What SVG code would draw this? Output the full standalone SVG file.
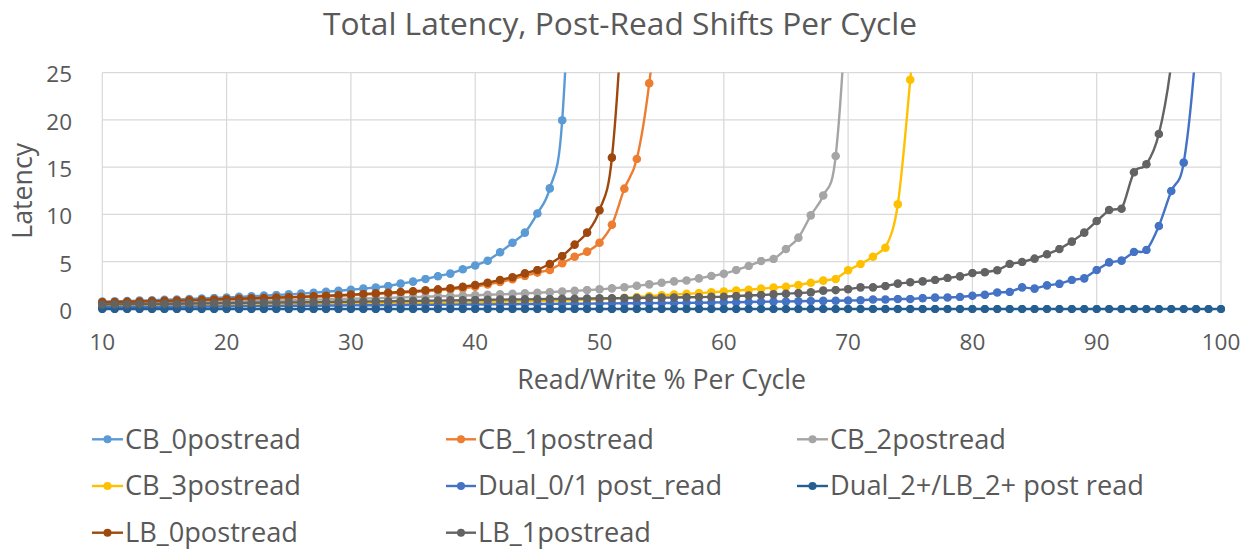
<svg xmlns="http://www.w3.org/2000/svg" width="1250" height="550" viewBox="0 0 1250 550">
<style>
  text{font-family:"Open Sans","Noto Sans","DejaVu Sans",sans-serif;fill:#595959}
  .title{font-size:31.7px}
  .tick{font-size:22.5px}
  .axt{font-size:26.7px}
  .leg{font-size:27.2px}
  .grid line{stroke:#D9D9D9;stroke-width:1.25}
  .s{fill:none;stroke-width:2.4;stroke-linejoin:round;vector-effect:non-scaling-stroke}
  .key line{stroke-width:2.4}
  .cb0{stroke:#5B9BD5;marker:url(#m-cb0)}
  .cb1{stroke:#ED7D31;marker:url(#m-cb1)}
  .cb2{stroke:#A5A5A5;marker:url(#m-cb2)}
  .cb3{stroke:#FFC000;marker:url(#m-cb3)}
  .d01{stroke:#4472C4;marker:url(#m-d01)}
  .d2{stroke:#255E91;marker:url(#m-d2)}
  .lb0{stroke:#9E480E;marker:url(#m-lb0)}
  .lb1{stroke:#636363;marker:url(#m-lb1)}
</style>
<defs>
  <!-- round data markers, 9px on screen inside the data-space transform -->
  <marker id="m-cb0" viewBox="0 0 9 9" refX="4.5" refY="4.5" markerUnits="userSpaceOnUse" markerWidth="0.724" markerHeight="0.951" preserveAspectRatio="none"><circle cx="4.5" cy="4.5" r="4.3" fill="#5B9BD5"/></marker>
  <marker id="m-cb1" viewBox="0 0 9 9" refX="4.5" refY="4.5" markerUnits="userSpaceOnUse" markerWidth="0.724" markerHeight="0.951" preserveAspectRatio="none"><circle cx="4.5" cy="4.5" r="4.3" fill="#ED7D31"/></marker>
  <marker id="m-cb2" viewBox="0 0 9 9" refX="4.5" refY="4.5" markerUnits="userSpaceOnUse" markerWidth="0.724" markerHeight="0.951" preserveAspectRatio="none"><circle cx="4.5" cy="4.5" r="4.3" fill="#A5A5A5"/></marker>
  <marker id="m-cb3" viewBox="0 0 9 9" refX="4.5" refY="4.5" markerUnits="userSpaceOnUse" markerWidth="0.724" markerHeight="0.951" preserveAspectRatio="none"><circle cx="4.5" cy="4.5" r="4.3" fill="#FFC000"/></marker>
  <marker id="m-d01" viewBox="0 0 9 9" refX="4.5" refY="4.5" markerUnits="userSpaceOnUse" markerWidth="0.724" markerHeight="0.951" preserveAspectRatio="none"><circle cx="4.5" cy="4.5" r="4.3" fill="#4472C4"/></marker>
  <marker id="m-d2" viewBox="0 0 9 9" refX="4.5" refY="4.5" markerUnits="userSpaceOnUse" markerWidth="0.724" markerHeight="0.951" preserveAspectRatio="none"><circle cx="4.5" cy="4.5" r="4.3" fill="#255E91"/></marker>
  <marker id="m-lb0" viewBox="0 0 9 9" refX="4.5" refY="4.5" markerUnits="userSpaceOnUse" markerWidth="0.724" markerHeight="0.951" preserveAspectRatio="none"><circle cx="4.5" cy="4.5" r="4.3" fill="#9E480E"/></marker>
  <marker id="m-lb1" viewBox="0 0 9 9" refX="4.5" refY="4.5" markerUnits="userSpaceOnUse" markerWidth="0.724" markerHeight="0.951" preserveAspectRatio="none"><circle cx="4.5" cy="4.5" r="4.3" fill="#636363"/></marker>
  <clipPath id="plot-clip"><rect x="85" y="72.5" width="1160" height="260"/></clipPath>
</defs>

<rect width="1250" height="550" fill="#ffffff"/>

<g id="title"><text class="title" x="620" y="34.5" text-anchor="middle">Total Latency, Post-Read Shifts Per Cycle</text></g>

<g id="gridlines" class="grid">
  <line x1="102.3" y1="309" x2="1221" y2="309"/>
  <line x1="102.3" y1="261.7" x2="1221" y2="261.7"/>
  <line x1="102.3" y1="214.4" x2="1221" y2="214.4"/>
  <line x1="102.3" y1="167.1" x2="1221" y2="167.1"/>
  <line x1="102.3" y1="119.8" x2="1221" y2="119.8"/>
  <line x1="102.3" y1="72.5" x2="1221" y2="72.5"/>
  <line x1="102.3" y1="72.5" x2="102.3" y2="309"/>
  <line x1="226.6" y1="72.5" x2="226.6" y2="309"/>
  <line x1="350.9" y1="72.5" x2="350.9" y2="309"/>
  <line x1="475.2" y1="72.5" x2="475.2" y2="309"/>
  <line x1="599.5" y1="72.5" x2="599.5" y2="309"/>
  <line x1="723.8" y1="72.5" x2="723.8" y2="309"/>
  <line x1="848.1" y1="72.5" x2="848.1" y2="309"/>
  <line x1="972.4" y1="72.5" x2="972.4" y2="309"/>
  <line x1="1096.7" y1="72.5" x2="1096.7" y2="309"/>
  <line x1="1221" y1="72.5" x2="1221" y2="309"/>
</g>

<g id="y-axis" class="tick" text-anchor="end">
  <text x="72" y="318.9">0</text>
  <text x="72" y="271.6">5</text>
  <text x="72" y="224.3">10</text>
  <text x="72" y="177">15</text>
  <text x="72" y="129.7">20</text>
  <text x="72" y="82.4">25</text>
</g>
<g id="x-axis" class="tick" text-anchor="middle">
  <text x="102.3" y="349.5">10</text>
  <text x="226.6" y="349.5">20</text>
  <text x="350.9" y="349.5">30</text>
  <text x="475.2" y="349.5">40</text>
  <text x="599.5" y="349.5">50</text>
  <text x="723.8" y="349.5">60</text>
  <text x="848.1" y="349.5">70</text>
  <text x="972.4" y="349.5">80</text>
  <text x="1096.7" y="349.5">90</text>
  <text x="1221" y="349.5">100</text>
</g>
<g id="axis-titles" class="axt">
  <text x="661.7" y="389" text-anchor="middle">Read/Write % Per Cycle</text>
  <text transform="translate(31.5 190.8) rotate(-90)" text-anchor="middle">Latency</text>
</g>

<!-- series: paths are in data units (x = read/write %, y = latency) -->
<g id="series" clip-path="url(#plot-clip)">
  <g transform="matrix(12.43 0 0 -9.46 -22 309)">
    <path id="cb-0postread" class="s cb0" d="M10 .78 11 .81 12 .85 13 .89 14 .93 15 .97 16 1.01 17 1.06 18 1.11 19 1.16 20 1.22 21 1.28 22 1.34 23 1.41 24 1.48 25 1.55 26 1.63 27 1.72 28 1.83 29 1.93 30 2.03 31 2.15 32 2.28 33 2.43 34 2.68 35 2.89 36 3.17 37 3.47 38 3.74 39 4.2 40 4.6 41 5.1 42 6 C42.333 6.317 42.667 6.655 43 7 C43.333 7.345 43.667 7.553 44 8.07 C44.333 8.587 44.667 9.32 45 10.1 C45.333 10.88 45.667 11.108 46 12.75 C46.333 14.392 46.667 13.742 47 19.95 C47.333 26.16 47.667 36.66 48 50"/>
    <path id="cb-1postread" class="s cb1" d="M10 .7 11 .72 12 .74 13 .77 14 .8 15 .83 16 .86 17 .89 18 .93 19 .97 20 1.02 21 1.06 22 1.1 23 1.14 24 1.18 25 1.22 26 1.26 27 1.3 28 1.35 29 1.4 30 1.46 31 1.52 32 1.58 33 1.65 34 1.72 35 1.8 36 1.88 37 1.97 38 2.07 39 2.18 40 2.35 41 2.6 42 2.85 43 3.15 44 3.5 45 3.85 46 4.12 47 4.83 48 5.53 C48.333 5.735 48.667 5.813 49 6.06 C49.333 6.307 49.667 6.535 50 7.01 C50.333 7.485 50.667 7.958 51 8.91 C51.333 9.862 51.667 11.562 52 12.72 C52.333 13.878 52.667 14.003 53 15.86 C53.333 17.717 53.667 20.337 54 23.86 C54.333 27.383 54.667 29.31 55 37"/>
    <path id="cb-2postread" class="s cb2" d="M10 .5 11 .52 12 .54 13 .57 14 .6 15 .63 16 .66 17 .69 18 .72 19 .75 20 .78 21 .81 22 .84 23 .87 24 .9 25 .93 26 .96 27 .99 28 1.02 29 1.05 30 1.08 31 1.11 32 1.14 33 1.18 34 1.22 35 1.26 36 1.3 37 1.34 38 1.38 39 1.42 40 1.45 41 1.5 42 1.55 43 1.6 44 1.65 45 1.72 46 1.78 47 1.85 48 1.92 49 2 50 2.08 51 2.18 52 2.3 53 2.45 54 2.6 55 2.78 56 2.92 57 3.02 58 3.24 59 3.49 60 3.72 61 4.12 62 4.55 63 5.07 64 5.29 C64.333 5.502 64.667 5.965 65 6.34 C65.333 6.715 65.667 6.947 66 7.54 C66.333 8.133 66.667 9.157 67 9.9 C67.333 10.643 67.667 10.955 68 12 C68.333 13.045 68.667 12.17 69 16.17 C69.333 20.17 69.667 27.03 70 36"/>
    <path id="cb-3postread" class="s cb3" d="M10 .42 11 .42 12 .43 13 .44 14 .44 15 .45 16 .46 17 .46 18 .47 19 .48 20 .49 21 .5 22 .5 23 .51 24 .52 25 .53 26 .54 27 .55 28 .56 29 .57 30 .58 31 .59 32 .6 33 .61 34 .62 35 .63 36 .65 37 .66 38 .68 39 .7 40 .72 41 .74 42 .76 43 .78 44 .8 45 .83 46 .86 47 .89 48 .93 49 .98 50 1.03 51 1.1 52 1.18 53 1.27 54 1.36 55 1.45 56 1.53 57 1.6 58 1.68 59 1.76 60 1.85 61 1.95 62 2.03 63 2.15 64 2.26 65 2.36 66 2.54 67 2.78 68 3 69 3.17 70 4.1 71 4.75 C71.333 4.988 71.667 5.242 72 5.53 C72.333 5.818 72.667 6.05 73 6.48 C73.333 7.403 73.667 8.11 74 11.07 C74.333 14.03 74.667 19.418 75 24.24 C75.333 29.06 75.667 30.7 76 40"/>
    <path id="dual-0-1-post-read" class="s d01" d="M10 .18 11 .19 12 .2 13 .21 14 .22 15 .23 16 .24 17 .25 18 .26 19 .27 20 .28 21 .29 22 .3 23 .31 24 .32 25 .33 26 .34 27 .35 28 .36 29 .37 30 .38 31 .39 32 .4 33 .41 34 .42 35 .43 36 .44 37 .45 38 .46 39 .47 40 .48 41 .49 42 .5 43 .51 44 .52 45 .53 46 .54 47 .55 48 .56 49 .57 50 .58 51 .59 52 .6 53 .61 54 .62 55 .63 56 .64 57 .65 58 .66 59 .68 60 .7 61 .72 62 .74 63 .76 64 .78 65 .8 66 .82 67 .84 68 .86 69 .88 70 .9 71 .92 72 1 73 1 74 1.05 75 1.05 76 1.15 77 1.2 78 1.22 79 1.27 80 1.4 81 1.5 82 1.74 83 1.8 84 2.29 85 2.15 86 2.5 87 2.66 88 3.07 89 3.24 90 4.12 91 4.93 92 5.11 93 6.03 C93.333 6.218 93.667 5.783 94 6.24 C94.333 6.697 94.667 7.732 95 8.77 C95.333 9.808 95.667 11.353 96 12.47 C96.333 13.587 96.667 12.882 97 15.47 C97.333 18.058 97.667 22.245 98 28"/>
    <path id="dual-2-lb-2-post-read" class="s d2" d="M10 0h1h1h1h1h1h1h1h1h1h1h1h1h1h1h1h1h1h1h1h1h1h1h1h1h1h1h1h1h1h1h1h1h1h1h1h1h1h1h1h1h1h1h1h1h1h1h1h1h1h1h1h1h1h1h1h1h1h1h1h1h1h1h1h1h1h1h1h1h1h1h1h1h1h1h1h1h1h1h1h1h1h1h1h1h1h1h1h1h1h1"/>
    <path id="lb-0postread" class="s lb0" d="M10 .72 11 .74 12 .77 13 .8 14 .83 15 .86 16 .89 17 .92 18 .96 19 1 20 1.05 21 1.09 22 1.13 23 1.17 24 1.21 25 1.26 26 1.3 27 1.35 28 1.4 29 1.46 30 1.52 31 1.58 32 1.65 33 1.72 34 1.8 35 1.88 36 1.97 37 2.07 38 2.18 39 2.35 40 2.54 41 2.78 42 3.07 43 3.35 44 3.77 45 4.12 46 4.76 47 5.6 C47.333 5.94 47.667 6.388 48 6.8 C48.333 7.212 48.667 7.465 49 8.07 C49.333 8.675 49.667 9.108 50 10.43 C50.333 11.752 50.667 11.738 51 16 C51.333 20.262 51.667 27 52 36"/>
    <path id="lb-1postread" class="s lb1" d="M10 .48 11 .49 12 .5 13 .52 14 .53 15 .55 16 .56 17 .58 18 .59 19 .61 20 .62 21 .64 22 .65 23 .67 24 .68 25 .7 26 .71 27 .73 28 .74 29 .76 30 .77 31 .79 32 .81 33 .82 34 .84 35 .86 36 .88 37 .89 38 .91 39 .93 40 .95 41 .97 42 .99 43 1 44 1.02 45 1.04 46 1.05 47 1.07 48 1.09 49 1.11 50 1.12 51 1.14 52 1.15 53 1.17 54 1.19 55 1.2 56 1.22 57 1.24 58 1.26 59 1.28 60 1.3 61 1.37 62 1.42 63 1.48 64 1.55 65 1.62 66 1.68 67 1.76 68 1.94 69 2 70 2.1 71 2.29 72 2.29 73 2.43 74 2.68 75 2.82 76 2.92 77 3.07 78 3.28 79 3.45 80 3.8 81 3.88 82 4.09 83 4.76 84 4.97 85 5.32 86 5.78 87 6.34 88 7.12 89 8.07 90 9.3 91 10.47 92 10.6 C92.333 11.263 92.667 13.667 93 14.45 C93.333 15.233 93.667 14.625 94 15.3 C94.333 15.975 94.667 16.717 95 18.5 C95.333 20.283 95.667 22.417 96 26"/>
  </g>
</g>

<g id="legend" class="key">
  <g id="key-cb-0postread"><line x1="92" y1="439.3" x2="123" y2="439.3" stroke="#5B9BD5"/><circle cx="107.5" cy="439.3" r="4" fill="#5B9BD5"/><text class="leg" x="125" y="448.5">CB_0postread</text></g>
  <g id="key-cb-1postread"><line x1="446" y1="439.3" x2="476" y2="439.3" stroke="#ED7D31"/><circle cx="461" cy="439.3" r="4" fill="#ED7D31"/><text class="leg" x="478" y="448.5">CB_1postread</text></g>
  <g id="key-cb-2postread"><line x1="797" y1="439.3" x2="828" y2="439.3" stroke="#A5A5A5"/><circle cx="812.5" cy="439.3" r="4" fill="#A5A5A5"/><text class="leg" x="830" y="448.5">CB_2postread</text></g>
  <g id="key-cb-3postread"><line x1="92" y1="486" x2="123" y2="486" stroke="#FFC000"/><circle cx="107.5" cy="486" r="4" fill="#FFC000"/><text class="leg" x="125" y="495.2">CB_3postread</text></g>
  <g id="key-dual-0-1"><line x1="446" y1="486" x2="476" y2="486" stroke="#4472C4"/><circle cx="461" cy="486" r="4" fill="#4472C4"/><text class="leg" x="478" y="495.2">Dual_0/1 post_read</text></g>
  <g id="key-dual-2"><line x1="797" y1="486" x2="828" y2="486" stroke="#255E91"/><circle cx="812.5" cy="486" r="4" fill="#255E91"/><text class="leg" x="830" y="495.2">Dual_2+/LB_2+ post read</text></g>
  <g id="key-lb-0postread"><line x1="92" y1="532.7" x2="123" y2="532.7" stroke="#9E480E"/><circle cx="107.5" cy="532.7" r="4" fill="#9E480E"/><text class="leg" x="125" y="541.9">LB_0postread</text></g>
  <g id="key-lb-1postread"><line x1="446" y1="532.7" x2="476" y2="532.7" stroke="#636363"/><circle cx="461" cy="532.7" r="4" fill="#636363"/><text class="leg" x="478" y="541.9">LB_1postread</text></g>
</g>
</svg>
